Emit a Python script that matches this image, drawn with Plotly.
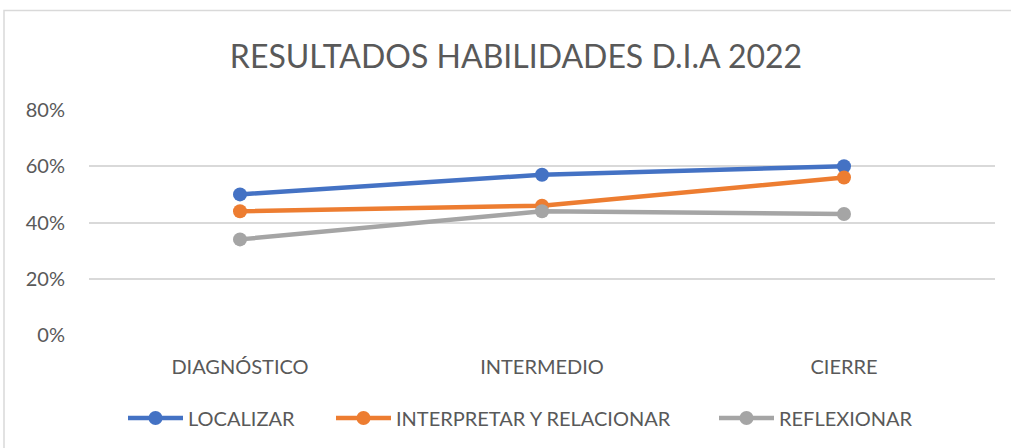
import plotly.graph_objects as go

categorias = ["DIAGNÓSTICO", "INTERMEDIO", "CIERRE"]
localizar = [0.50, 0.57, 0.60]
interpretar = [0.44, 0.46, 0.56]
reflexionar = [0.34, 0.44, 0.43]

series = [
    ("LOCALIZAR", localizar, "#4472C4"),
    ("INTERPRETAR Y RELACIONAR", interpretar, "#ED7D31"),
    ("REFLEXIONAR", reflexionar, "#A5A5A5"),
]

FONT = "Lato, Open Sans, Arial"
W, H = 1011, 448
ML, MR, MT, MB = 89, 16, 110, 112
PW, PH = W - ML - MR, H - MT - MB

# each legend entry gets its own box so the spacing can follow the original
legend_ids = ["legend", "legend2", "legend3"]
legend_left = [123, 331, 714]

fig = go.Figure()
for (nombre, valores, color), lid in zip(series, legend_ids):
    fig.add_trace(go.Scatter(
        x=categorias, y=valores, name=nombre,
        mode="lines+markers",
        line=dict(color=color, width=4.5),
        marker=dict(color=color, size=14),
        legend=lid,
    ))

legends = {}
for lid, px in zip(legend_ids, legend_left):
    legends[lid] = dict(orientation="h", x=(px - ML) / PW, xanchor="left",
                        y=(MT + PH - 418) / PH, yanchor="middle",
                        itemwidth=55,
                        font=dict(size=20, color="#595959", family=FONT),
                        bgcolor="rgba(0,0,0,0)")

fig.update_layout(
    width=W, height=H,
    margin=dict(l=ML, r=MR, t=MT, b=MB),
    paper_bgcolor="white", plot_bgcolor="white",
    font=dict(family=FONT, color="#595959", size=20),
    title=dict(text="RESULTADOS HABILIDADES D.I.A 2022", x=516 / W, xanchor="center",
               y=1 - 57 / H, yref="container", yanchor="middle",
               font=dict(size=32, color="#595959", family=FONT)),
    xaxis=dict(range=[-0.5, 2.5], showgrid=False, showline=False, ticks="",
               zeroline=False, tickfont=dict(size=20), ticklabelstandoff=18),
    yaxis=dict(range=[0, 0.8], dtick=0.2, tickformat=".0%", showgrid=True,
               gridcolor="#D9D9D9", gridwidth=1.5, zeroline=False, showline=False,
               tickfont=dict(size=20), ticklabelstandoff=23),
    showlegend=True,
    # chart border: left edge x=4 px, top edge y=10 px, rest runs off the picture
    shapes=[dict(type="rect", xref="paper", yref="paper",
                 x0=(4 - ML) / PW, x1=(W + 10 - ML) / PW,
                 y0=(MT + PH - (H + 10)) / PH, y1=(MT + PH - 10) / PH,
                 line=dict(color="#D9D9D9", width=1.5), fillcolor="rgba(0,0,0,0)",
                 layer="below")],
    **legends,
)

# drop the default 8px page margin so the figure sits at the window corner
fig.write_html("out.html", config={"displayModeBar": False},
               post_script="document.body.style.margin='0';")
